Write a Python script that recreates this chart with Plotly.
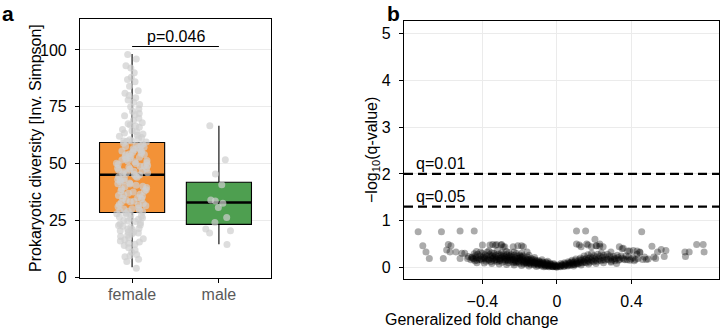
import plotly.graph_objects as go
import math

# ---------------- Panel a data ----------------
groups = ["female", "male"]
group_pos = [0, 1]
box_colors = ["#F39237", "#4E9F50"]
q1 = [28.5, 23.3]
medians = [45.1, 32.9]
q3 = [59.3, 41.8]
lower_fence = [4.4, 14.5]
upper_fence = [98.2, 66.6]

female_vals = [
    98, 96, 93, 92, 90, 88, 87, 86, 82, 81, 80, 79, 78, 77, 76, 74, 73, 72, 71, 70,
    69, 68, 67, 66.5, 66, 65, 64.5, 64, 63, 62.5, 62, 61.5, 61, 60.5, 60, 60, 59.8,
    59.5, 63.5, 67.5, 71.5, 75, 84,
    59, 58.5, 58, 57.5, 57, 56.5, 56, 55.5, 55, 54.6, 54.2, 53.8, 53.4, 53, 52.5, 52,
    51.6, 51.2, 50.8, 50.4, 50, 49.6, 49.2, 48.8, 48.4, 48, 47.6, 47.2, 46.8, 46.4, 46,
    45.6, 45.3, 58.2, 57.2, 56.2, 55.2, 54, 52.8, 51.4, 50.2, 49, 47.9, 46.6, 45.8,
    45, 44.5, 44, 43.5, 43, 42.5, 42, 41.5, 41, 40.5, 40, 39.5, 39, 38.5, 38, 37.5, 37,
    36.5, 36, 35.5, 35, 34.5, 34, 33.5, 33, 32.5, 32, 31.5, 31, 30.5, 30, 29.5, 29, 28.8,
    44.2, 42.8, 41.2, 39.8, 37.8, 36.2, 34.8, 33.2, 31.8, 30.2, 29.2,
    28.3, 28, 27.5, 27, 26.5, 26, 25.5, 25, 24.5, 24, 23.5, 23, 22.5, 22, 21.5, 21, 20.5,
    20, 19.5, 19, 18.5, 18, 17.5, 17, 16.5, 16, 15.5, 15, 14.5, 14, 13, 12, 11, 10, 9.5,
    9, 8, 7, 4, 27.8, 26.2, 24.8, 22.8, 21.2, 19.8,
]
male_vals = [66.6, 51.7, 45.4, 40.7, 34.0, 33.6, 32.6, 30.7, 26.3, 24.1, 21.3, 20.5, 19.5, 14.4]
p_label = "p=0.046"
bracket_y = 101.5

# ---------------- Panel b data ----------------
q_thresholds = [0.01, 0.05]
q_labels = ["q=0.01", "q=0.05"]
volcano_points = [
    (-0.745, 0.76), (-0.62, 0.76), (-0.52, 0.78), (-0.444, 0.78),
    (-0.72, 0.46), (-0.703, 0.33), (-0.685, 0.19), (-0.61, 0.19),
    (-0.583, 0.49), (-0.569, 0.46), (-0.592, 0.37), (-0.574, 0.33), (-0.542, 0.33),
    (-0.52, 0.19), (-0.51, 0.30), (-0.495, 0.30), (-0.476, 0.23), (-0.458, 0.21),
    (-0.444, 0.29), (-0.432, 0.34), (-0.48, 0.19),
    (-0.40, 0.48), (-0.36, 0.48), (-0.33, 0.47), (-0.30, 0.48), (-0.28, 0.44),
    (-0.345, 0.49), (-0.324, 0.49), (-0.297, 0.49), (-0.288, 0.44),
    (-0.235, 0.44), (-0.21, 0.46), (-0.19, 0.46), (-0.18, 0.44), (-0.16, 0.33),
    (0.105, 0.78), (0.154, 0.78), (0.204, 0.60),
    (0.12, 0.48), (0.16, 0.50), (0.21, 0.46), (0.23, 0.45),
    (0.105, 0.50), (0.13, 0.44), (0.167, 0.48), (0.185, 0.44), (0.213, 0.46), (0.23, 0.50), (0.248, 0.44),
    (0.29, 0.33), (0.35, 0.40), (0.38, 0.35), (0.32, 0.08),
    (0.335, 0.44), (0.356, 0.41), (0.39, 0.35), (0.41, 0.36), (0.445, 0.33), (0.43, 0.28),
    (0.455, 0.76), (0.43, 0.35), (0.445, 0.32),
    (0.48, 0.17), (0.52, 0.22), (0.51, 0.45), (0.49, 0.18), (0.53, 0.19),
    (0.54, 0.33), (0.56, 0.38), (0.585, 0.36), (0.576, 0.23),
    (0.687, 0.33), (0.71, 0.33), (0.69, 0.23),
    (0.75, 0.49), (0.785, 0.49), (0.79, 0.33),
    (-0.462, 0.16), (-0.455, 0.22),
    (-0.445, 0.18), (-0.437, 0.25), (-0.441, 0.14),
    (-0.423, 0.20), (-0.416, 0.17), (-0.425, 0.28),
    (-0.404, 0.15), (-0.396, 0.22), (-0.401, 0.30), (-0.393, 0.19),
    (-0.384, 0.18), (-0.377, 0.24), (-0.381, 0.13), (-0.374, 0.33),
    (-0.364, 0.16), (-0.357, 0.21), (-0.362, 0.27), (-0.354, 0.12), (-0.366, 0.35),
    (-0.343, 0.19), (-0.336, 0.14), (-0.345, 0.25), (-0.338, 0.30), (-0.334, 0.22),
    (-0.324, 0.17), (-0.317, 0.23), (-0.322, 0.12), (-0.315, 0.28), (-0.326, 0.20), (-0.319, 0.36),
    (-0.303, 0.15), (-0.296, 0.21), (-0.301, 0.26), (-0.294, 0.11), (-0.306, 0.18), (-0.298, 0.31),
    (-0.284, 0.19), (-0.277, 0.13), (-0.282, 0.24), (-0.275, 0.16), (-0.286, 0.29), (-0.279, 0.21),
    (-0.263, 0.14), (-0.256, 0.20), (-0.261, 0.10), (-0.254, 0.25), (-0.266, 0.17), (-0.258, 0.32), (-0.262, 0.22),
    (-0.244, 0.16), (-0.237, 0.12), (-0.242, 0.21), (-0.235, 0.09), (-0.246, 0.27), (-0.239, 0.18),
    (-0.223, 0.13), (-0.216, 0.19), (-0.221, 0.10), (-0.214, 0.24), (-0.226, 0.15), (-0.218, 0.30), (-0.224, 0.21),
    (-0.204, 0.11), (-0.197, 0.16), (-0.202, 0.08), (-0.195, 0.22), (-0.206, 0.14), (-0.199, 0.26), (-0.201, 0.19),
    (-0.183, 0.12), (-0.176, 0.09), (-0.181, 0.17), (-0.174, 0.14), (-0.186, 0.21), (-0.178, 0.07), (-0.182, 0.25),
    (-0.164, 0.10), (-0.157, 0.14), (-0.162, 0.07), (-0.155, 0.18), (-0.166, 0.12), (-0.158, 0.22), (-0.161, 0.16),
    (-0.143, 0.08), (-0.136, 0.12), (-0.141, 0.06), (-0.134, 0.15), (-0.146, 0.10), (-0.138, 0.19), (-0.142, 0.13),
    (-0.124, 0.07), (-0.117, 0.10), (-0.122, 0.05), (-0.115, 0.13), (-0.126, 0.09), (-0.118, 0.16), (-0.121, 0.11),
    (-0.103, 0.06), (-0.096, 0.09), (-0.101, 0.04), (-0.094, 0.12), (-0.106, 0.08), (-0.098, 0.14), (-0.102, 0.10),
    (-0.084, 0.05), (-0.077, 0.08), (-0.082, 0.03), (-0.075, 0.10), (-0.086, 0.07), (-0.078, 0.12),
    (-0.063, 0.04), (-0.056, 0.06), (-0.061, 0.02), (-0.054, 0.09), (-0.066, 0.05), (-0.058, 0.11),
    (-0.044, 0.03), (-0.037, 0.05), (-0.042, 0.01), (-0.035, 0.07), (-0.046, 0.04), (-0.038, 0.09),
    (-0.023, 0.02), (-0.016, 0.04), (-0.021, 0.01), (-0.014, 0.06), (-0.026, 0.03), (-0.018, 0.08),
    (-0.004, 0.01), (0.003, 0.03), (-0.001, 0.00), (0.006, 0.05), (-0.007, 0.02),
    (0.017, 0.02), (0.024, 0.04), (0.019, 0.01), (0.026, 0.06), (0.021, 0.08),
    (0.037, 0.03), (0.044, 0.05), (0.039, 0.02), (0.046, 0.08), (0.041, 0.10),
    (0.057, 0.04), (0.064, 0.07), (0.059, 0.03), (0.066, 0.10), (0.061, 0.12),
    (0.077, 0.05), (0.084, 0.09), (0.079, 0.12), (0.086, 0.07), (0.081, 0.15),
    (0.097, 0.06), (0.104, 0.10), (0.099, 0.14), (0.106, 0.08), (0.101, 0.18),
    (0.117, 0.08), (0.124, 0.12), (0.119, 0.16), (0.126, 0.20),
    (0.137, 0.09), (0.144, 0.13), (0.139, 0.18), (0.146, 0.24),
    (0.157, 0.10), (0.164, 0.15), (0.159, 0.20), (0.166, 0.27),
    (0.177, 0.11), (0.184, 0.16), (0.179, 0.22), (0.186, 0.30),
    (0.197, 0.12), (0.204, 0.18), (0.199, 0.25),
    (0.217, 0.13), (0.224, 0.19), (0.219, 0.28),
    (0.237, 0.14), (0.244, 0.21), (0.239, 0.31),
    (0.257, 0.15), (0.264, 0.22),
    (0.277, 0.16), (0.284, 0.24),
    (0.297, 0.17), (0.304, 0.23),
    (0.317, 0.18), (0.324, 0.26),
    (0.337, 0.17), (0.344, 0.24),
    (0.358, 0.18),
    (0.377, 0.16), (0.384, 0.22),
    (0.398, 0.18),
    (0.421, 0.17),
    (-0.452, 0.19), (-0.433, 0.21), (-0.428, 0.15), (-0.411, 0.24), (-0.408, 0.18),
    (-0.389, 0.21), (-0.386, 0.27), (-0.371, 0.19), (-0.368, 0.15), (-0.352, 0.24),
    (-0.348, 0.18), (-0.331, 0.16), (-0.328, 0.26), (-0.311, 0.19), (-0.309, 0.14),
    (-0.292, 0.24), (-0.289, 0.17), (-0.271, 0.20), (-0.268, 0.27), (-0.251, 0.15),
    (-0.249, 0.23), (-0.231, 0.17), (-0.228, 0.26), (-0.211, 0.12), (-0.209, 0.20),
    (-0.191, 0.15), (-0.188, 0.23), (-0.171, 0.11), (-0.169, 0.19), (-0.151, 0.09),
    (-0.149, 0.16), (-0.131, 0.11), (-0.129, 0.17), (-0.111, 0.08), (-0.109, 0.14),
    (-0.091, 0.07), (-0.089, 0.11), (-0.071, 0.06), (-0.069, 0.09), (-0.051, 0.03),
    (-0.049, 0.07), (-0.031, 0.02), (-0.029, 0.06), (-0.011, 0.02), (-0.009, 0.04),
    (-0.41, 0.33), (-0.35, 0.31), (-0.27, 0.34), (-0.23, 0.33), (-0.19, 0.30),
    (-0.15, 0.26), (-0.12, 0.21), (-0.08, 0.16), (-0.05, 0.13),
    (-0.43, 0.10), (-0.39, 0.09), (-0.35, 0.08), (-0.31, 0.07), (-0.27, 0.06),
    (-0.23, 0.05), (-0.19, 0.04), (-0.15, 0.03), (-0.11, 0.02), (-0.07, 0.01),
    (0.011, 0.03), (0.029, 0.05), (0.049, 0.06), (0.069, 0.05), (0.071, 0.09),
    (0.089, 0.11), (0.091, 0.06), (0.109, 0.12), (0.111, 0.07), (0.129, 0.10),
    (0.131, 0.15), (0.149, 0.11), (0.151, 0.17), (0.169, 0.13), (0.171, 0.19),
    (0.189, 0.14), (0.191, 0.20), (0.209, 0.15), (0.211, 0.22), (0.229, 0.16),
    (0.231, 0.24), (0.249, 0.17), (0.251, 0.26), (0.269, 0.18), (0.271, 0.28),
    (0.289, 0.20), (0.291, 0.13), (0.309, 0.19), (0.311, 0.14), (0.329, 0.21),
    (0.331, 0.15), (0.349, 0.20), (0.365, 0.16), (0.371, 0.24), (0.392, 0.15),
    (0.408, 0.21), (0.415, 0.14), (0.435, 0.19), (0.46, 0.17), (0.47, 0.22),
    (0.09, 0.03), (0.13, 0.05), (0.17, 0.07), (0.21, 0.08), (0.25, 0.10), (0.29, 0.11),
]
fc_x = [p[0] for p in volcano_points]
fc_y = [p[1] for p in volcano_points]

FONT = "Liberation Sans, Arial, sans-serif"
fig = go.Figure()

# Boxes (panel a)
for i in range(2):
    fig.add_trace(go.Box(
        x=[group_pos[i]], q1=[q1[i]], median=[medians[i]], q3=[q3[i]],
        lowerfence=[lower_fence[i]], upperfence=[upper_fence[i]],
        fillcolor=box_colors[i], line=dict(color="black", width=1.1),
        width=0.75, whiskerwidth=0, boxpoints=False, showlegend=False,
        xaxis="x", yaxis="y"))
    # thicker median bar
    fig.add_trace(go.Box(
        x=[group_pos[i]], q1=[medians[i]], median=[medians[i]], q3=[medians[i]],
        lowerfence=[medians[i]], upperfence=[medians[i]],
        fillcolor="rgba(0,0,0,0)", line=dict(color="black", width=2.6),
        width=0.75, whiskerwidth=0, boxpoints=False, showlegend=False,
        xaxis="x", yaxis="y"))

for pos, vals in zip(group_pos, [female_vals, male_vals]):
    fig.add_trace(go.Box(
        x=[pos] * len(vals), y=vals, boxpoints="all", jitter=0.5, pointpos=0,
        fillcolor="rgba(0,0,0,0)", line=dict(color="rgba(0,0,0,0)", width=0),
        marker=dict(color="#CFCFCF", opacity=0.7, size=7),
        width=0.75, whiskerwidth=0, showlegend=False, xaxis="x", yaxis="y"))

# p-value bracket
fig.add_trace(go.Scatter(x=group_pos, y=[bracket_y, bracket_y], mode="lines",
                         line=dict(color="black", width=1.2), showlegend=False,
                         xaxis="x", yaxis="y"))

# Volcano (panel b)
fig.add_trace(go.Scatter(x=fc_x, y=fc_y, mode="markers",
                         marker=dict(color="black", opacity=0.33, size=7, line=dict(width=0)),
                         showlegend=False, xaxis="x2", yaxis="y2"))

shapes = []
annotations = []
for q, lab in zip(q_thresholds, q_labels):
    yv = -math.log10(q)
    shapes.append(dict(type="line", xref="x2 domain", yref="y2", x0=0, x1=1, y0=yv, y1=yv,
                       line=dict(color="black", width=2.2, dash="9px,5px")))
    annotations.append(dict(x=-0.77, y=yv, xref="x2", yref="y2", text=lab, showarrow=False,
                            xanchor="left", yanchor="bottom", font=dict(size=16, color="black")))

annotations += [
    dict(x=0.5, y=bracket_y, xref="x", yref="y", text=p_label, showarrow=False,
         xanchor="center", yanchor="bottom", font=dict(size=16, color="black")),
    dict(x=0, y=1, xref="paper", yref="paper", text="<b>a</b>", showarrow=False,
         xanchor="left", yanchor="top", font=dict(size=21, color="black")),
    dict(x=385 / 720, y=1, xref="paper", yref="paper", text="<b>b</b>", showarrow=False,
         xanchor="left", yanchor="top", font=dict(size=21, color="black")),
    dict(x=25 / 720, y=(329 - 148.5) / 329, xref="paper", yref="paper", yanchor="middle",
         text="Prokaryotic diversity [Inv. Simpson]", showarrow=False, textangle=-90,
         font=dict(size=16, color="black")),
    dict(x=372 / 720, y=(329 - 150) / 329, xref="paper", yref="paper", yanchor="middle",
         text="−log<sub>10</sub>(q-value)", showarrow=False, textangle=-90,
         font=dict(size=16, color="black")),
    dict(x=561 / 720, y=(329 - 319.5) / 329, xref="paper", yref="paper", yanchor="middle",
         text="Generalized fold change", showarrow=False,
         font=dict(size=16, color="black")),
]

axis_common = dict(showline=True, linecolor="black", linewidth=1.2, mirror=True,
                   ticks="outside", ticklen=4, tickcolor="black", tickwidth=1.1,
                   zeroline=False, automargin=False, tickfont=dict(size=16, color="black"))

fig.update_layout(
    width=720, height=329, autosize=False,
    margin=dict(l=0, r=0, t=0, b=0, pad=0, autoexpand=False),
    paper_bgcolor="white", plot_bgcolor="white",
    font=dict(family=FONT, size=16, color="black"),
    boxmode="overlay", showlegend=False,
    xaxis=dict(domain=[80 / 720, 271 / 720], range=[-0.6, 1.6], tickvals=group_pos,
               ticktext=groups, showgrid=False, anchor="y", ticklabelstandoff=-2,
               **{**axis_common, "tickfont": dict(size=16, color="#5A5A5A")}),
    yaxis=dict(domain=[(329 - 278) / 329, (329 - 19) / 329], range=[-0.3, 113.6],
               tickvals=[0, 25, 50, 75, 100], showgrid=True, gridcolor="#EBEBEB",
               gridwidth=1.2, anchor="x", ticklabelstandoff=5, **axis_common),
    xaxis2=dict(domain=[404 / 720, 719 / 720], range=[-0.821, 0.87],
                tickvals=[-0.4, 0, 0.4], ticktext=["−0.4", "0", "0.4"],
                showgrid=True, gridcolor="#EBEBEB", gridwidth=1.2, anchor="y2",
                ticklabelstandoff=4, **axis_common),
    yaxis2=dict(domain=[(329 - 279) / 329, (329 - 20.7) / 329], range=[-0.25, 5.28],
                tickvals=[0, 1, 2, 3, 4, 5], showgrid=True, gridcolor="#EBEBEB",
                gridwidth=1.2, anchor="x2", ticklabelstandoff=5, **axis_common),
    shapes=shapes, annotations=annotations,
)

fig.write_html(
    "out.html",
    config={"displayModeBar": False},
    post_script="document.body.style.margin='0';document.body.style.padding='0';"
                "document.body.style.overflow='hidden';",
)
